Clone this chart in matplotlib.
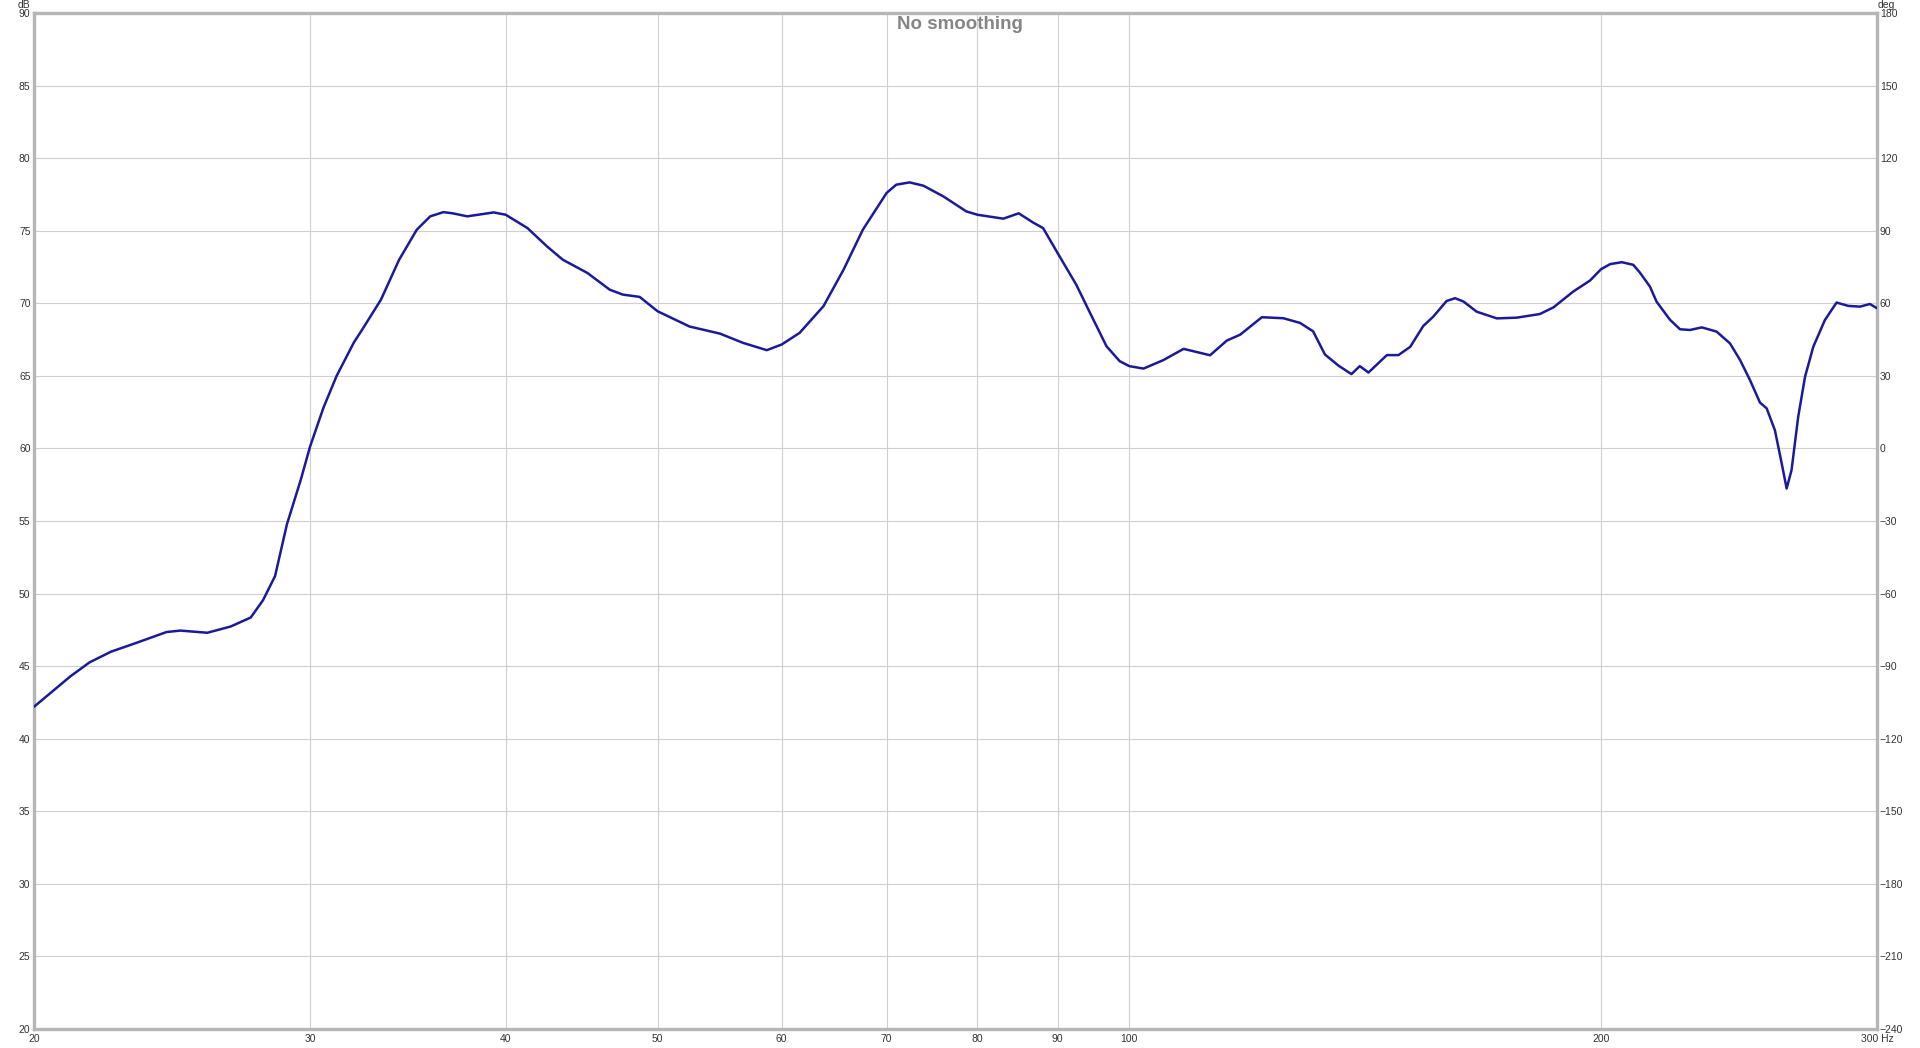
import matplotlib
matplotlib.use('Agg')
import matplotlib.pyplot as plt
from matplotlib.ticker import NullLocator

plt.rcParams['font.family'] = ['Liberation Sans', 'DejaVu Sans']

# ---- data ----
freq_hz = [20.0, 21.1, 21.7, 22.4, 23.2, 24.3, 24.8, 25.8, 26.7, 27.5, 28.0, 28.5,
           29.0, 29.6, 30.0, 30.6, 31.2, 32.0, 32.4, 33.3, 34.2, 35.1, 35.8, 36.5,
           37.0, 37.8, 39.3, 40.0, 41.3, 42.5, 43.5, 45.1, 46.6, 47.5, 48.7, 50.0, 52.4,
           54.8, 56.7, 58.7, 60.0, 61.6, 63.8, 65.7, 67.6, 70.0, 71.0, 72.4, 73.9, 76.1,
           78.7, 80.0, 83.1, 85.0, 86.8, 88.1, 90.0, 92.5, 94.4, 96.7, 98.6, 100.0, 102.1,
           105.1, 108.3, 112.6, 115.4, 117.7, 121.5, 125.4, 128.5, 131.0, 133.3, 136.0,
           138.6, 140.3, 142.1, 146.0, 148.5, 151.1, 154.0, 156.3, 159.4, 161.4, 163.4,
           166.6, 171.6, 176.7, 182.8, 186.5, 192.0, 196.8, 200.0, 202.7, 206.2, 209.7,
           211.8, 214.9, 217.0, 221.3, 224.6, 227.9, 231.9, 237.0, 241.7, 245.3, 248.9,
           252.6, 255.1, 258.2, 260.8, 262.7, 264.6, 267.2, 269.9, 273.2, 277.9, 282.7,
           287.6, 292.6, 296.9, 300.0]
spl_db = [42.2, 44.3, 45.26, 46.0, 46.57, 47.35, 47.45, 47.3, 47.73, 48.35, 49.54, 51.2,
          54.76, 57.85, 60.1, 62.8, 65.0, 67.3, 68.2, 70.25, 73.0, 75.07, 75.99, 76.28,
          76.2, 75.99, 76.26, 76.1, 75.18, 73.92, 73.0, 72.09, 70.94, 70.6, 70.44, 69.45, 68.4,
          67.91, 67.27, 66.77, 67.16, 67.96, 69.8, 72.3, 75.07, 77.6, 78.17, 78.33, 78.1, 77.36,
          76.33, 76.1, 75.83, 76.2, 75.57, 75.18, 73.46, 71.28, 69.33, 67.04, 66.01, 65.67, 65.5,
          66.08, 66.86, 66.42, 67.43, 67.84, 69.04, 68.97, 68.65, 68.07, 66.47, 65.7,
          65.12, 65.67, 65.23, 66.43, 66.43, 67.0, 68.43, 69.08, 70.16, 70.35, 70.12,
          69.42, 68.96, 69.01, 69.26, 69.72, 70.81, 71.57, 72.35, 72.70, 72.83, 72.65,
          72.1, 71.15, 70.11, 68.87, 68.21, 68.16, 68.34, 68.05, 67.24, 66.1, 64.72,
          63.16, 62.76, 61.26, 58.97, 57.24, 58.51, 62.18, 64.94, 67.01, 68.85, 70.05,
          69.82, 69.77, 69.95, 69.66]

x_ticks = [20, 30, 40, 50, 60, 70, 80, 90, 100, 200, 300]
x_tick_labels = ['20', '30', '40', '50', '60', '70', '80', '90', '100', '200', '300 Hz']
y_ticks = list(range(20, 91, 5))
y2_ticks = list(range(-240, 181, 30))
title = 'No smoothing'

W, H = 1920, 1048
fig = plt.figure(figsize=(W / 100, H / 100), dpi=100)
ax = fig.add_axes([34 / W, 19 / H, 1843 / W, 1016 / H])
ax.set_xscale('log')
ax.set_xlim(20, 300)
ax.set_ylim(20, 90)

ax.plot(freq_hz, spl_db, color='#1a1a9a', lw=1.8, solid_joinstyle='round',
        solid_capstyle='round', zorder=3)

ax.set_xticks(x_ticks)
ax.set_xticklabels(x_tick_labels)
ax.xaxis.set_minor_locator(NullLocator())
ax.set_yticks(y_ticks)
ax.grid(True, which='major', color='#cfcfcf', lw=0.8)
ax.set_axisbelow(True)
ax.tick_params(axis='both', length=0, labelsize=7.5, colors='#333333')
ax.tick_params(axis='x', pad=3.5)
ax.tick_params(axis='y', pad=2.5)
for s in ax.spines.values():
    s.set_color('#b6b6b6')
    s.set_linewidth(2.4)

ax2 = ax.twinx()
ax2.set_ylim(-240, 180)
ax2.set_yticks(y2_ticks)
ax2.tick_params(axis='y', length=0, labelsize=7.5, colors='#333333', pad=2)
for s in ax2.spines.values():
    s.set_visible(False)

fig.text(24 / W, 1 - 4.5 / H, 'dB', ha='center', va='center', fontsize=7.5, color='#333333')
fig.text(1886 / W, 1 - 4.5 / H, 'deg', ha='center', va='center', fontsize=7.5, color='#333333')
fig.text(960 / W, 1 - 29 / H, title, ha='center', va='baseline', fontsize=13.5,
         fontweight='bold', color='#858585')

fig.savefig('out.png', dpi=100)
